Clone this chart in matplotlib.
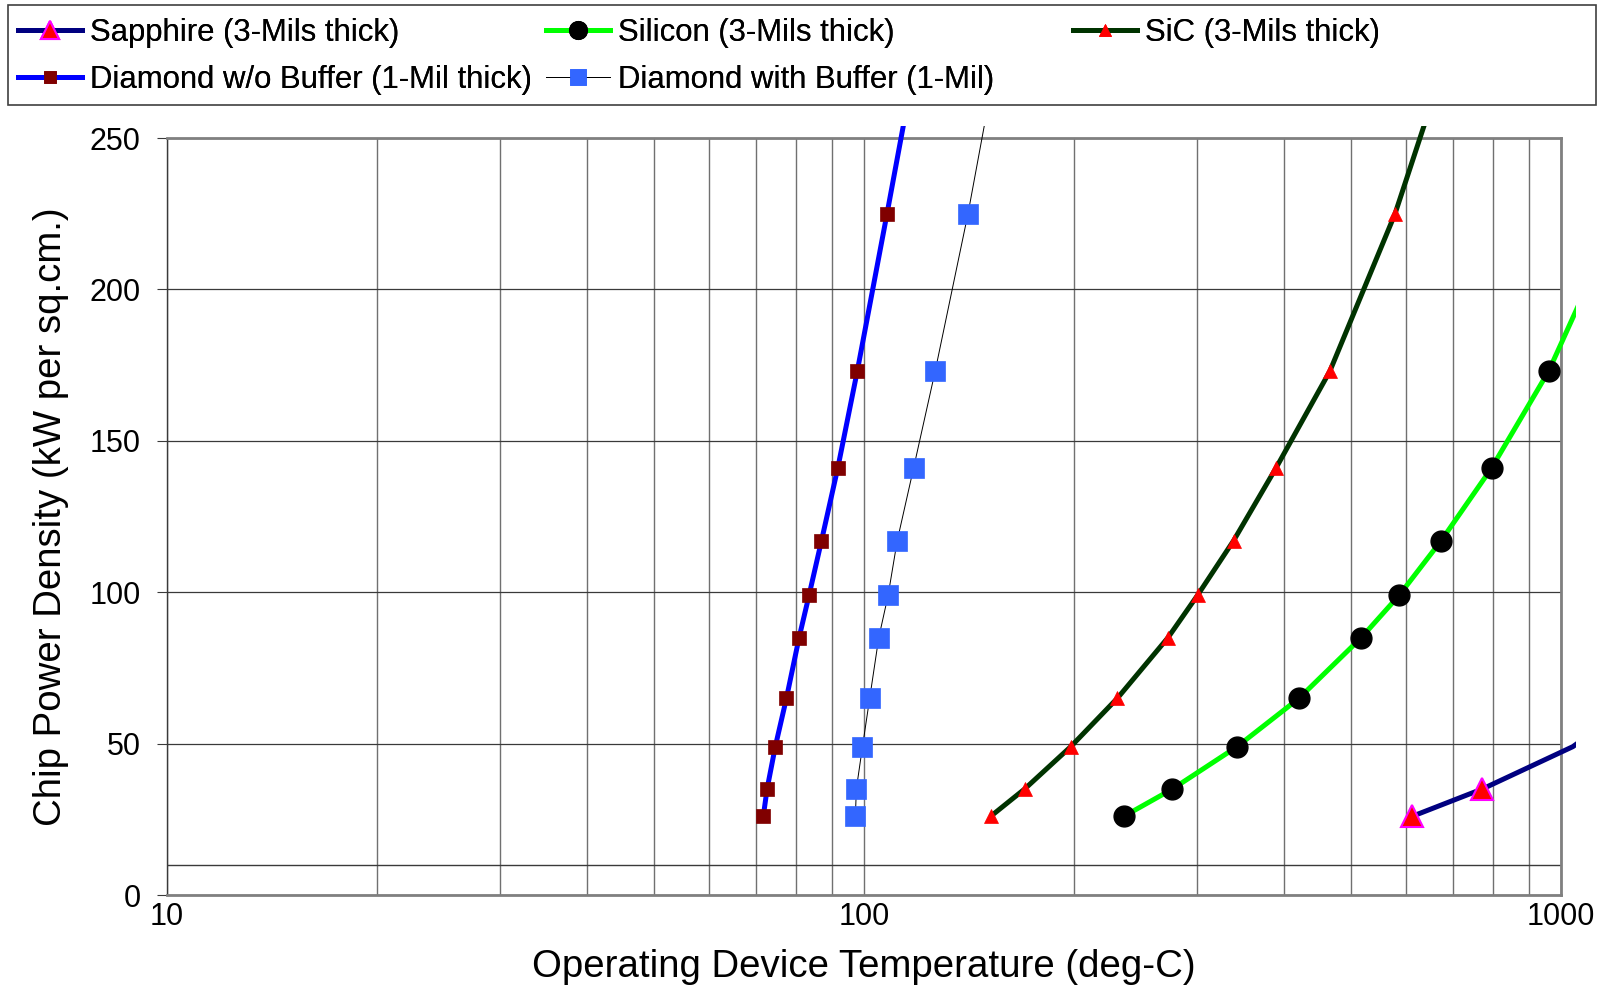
import matplotlib
matplotlib.use('Agg')
import matplotlib.pyplot as plt
from matplotlib.patches import Rectangle
from matplotlib.lines import Line2D
from matplotlib.ticker import FixedLocator, NullFormatter
import numpy as np

plt.rcParams['font.family'] = ['Liberation Sans', 'DejaVu Sans']

# ---- data (temperature deg-C, power density kW/cm^2) ----
# last points of some series lie beyond the axis range (only the line reaches there)
power = [26, 35, 49, 65, 85, 99, 117, 141, 173, 225, 300]

sapphire_T = [612, 771, 1040, 1300]
sapphire_P = [26, 35, 49, 65]

silicon_T = [236, 277, 343, 421, 517, 586, 673, 795, 960, 1215]
silicon_P = [26, 35, 49, 65, 85, 99, 117, 141, 173, 225]

sic_T = [152, 170, 198, 231, 273, 301, 339, 390, 466, 578, 740]
sic_P = power

dwo_T = [71.7, 72.6, 74.6, 77.4, 80.7, 83.4, 86.9, 91.7, 97.8, 107.9, 124]
dwo_P = power

dwb_T = [97.2, 97.5, 99.5, 101.9, 105.0, 108.3, 111.6, 117.8, 126.5, 141.0, 162]
dwb_P = power

labels = ["Sapphire (3-Mils thick)", "Silicon (3-Mils thick)", "SiC (3-Mils thick)",
          "Diamond w/o Buffer (1-Mil thick)", "Diamond with Buffer (1-Mil)"]

x_ticks = [10, 100, 1000]
y_ticks = [0, 50, 100, 150, 200, 250]

styles = [
    dict(color='#000080', lw=3.6, marker='^', ms=16, mfc='#FF0000', mec='#FF00FF', mew=1.5),
    dict(color='#00FF00', lw=3.6, marker='o', ms=15, mfc='#000000', mec='#000000', mew=1),
    dict(color='#003300', lw=3.6, marker='^', ms=9.5, mfc='#FF0000', mec='#FF0000', mew=0.5),
    dict(color='#0000FF', lw=3.6, marker='s', ms=10, mfc='#800000', mec='#800000', mew=0.5),
    dict(color='#000000', lw=0.7, marker='s', ms=14, mfc='#3366FF', mec='#3366FF', mew=0.5),
]
series = [(sapphire_T, sapphire_P), (silicon_T, silicon_P), (sic_T, sic_P),
          (dwo_T, dwo_P), (dwb_T, dwb_P)]

W, H = 1606, 988
fig = plt.figure(figsize=(W / 100, H / 100), dpi=100)
ax = fig.add_axes([167 / W, 1 - 895 / H, (1561 - 167) / W, (895 - 138) / H])
ax.set_xscale('log')
ax.set_xlim(10, 1000)
ax.set_ylim(0, 250)

# grid
ax.xaxis.set_minor_locator(FixedLocator([v * d for d in (10, 100) for v in range(2, 10)]))
ax.xaxis.set_minor_formatter(NullFormatter())
ax.xaxis.set_major_locator(FixedLocator(x_ticks))
ax.set_xticklabels([str(v) for v in x_ticks])
ax.set_yticks(y_ticks)
ax.grid(True, which='both', axis='x', color='#707070', lw=1.0, zorder=0)
ax.grid(True, which='major', axis='y', color='#3a3a3a', lw=0.9, zorder=0)
ax.axhline(10, color='#3a3a3a', lw=1.0, zorder=1)
ax.set_axisbelow(True)

for s in ('top', 'right', 'bottom'):
    ax.spines[s].set_color('#808080')
    ax.spines[s].set_linewidth(2)
ax.spines['left'].set_color('#3a3a3a')
ax.spines['left'].set_linewidth(1)

ax.tick_params(axis='y', which='major', length=7, direction='out', color='#3a3a3a',
               labelsize=22, pad=12)
ax.tick_params(axis='x', which='both', length=0, labelsize=22, pad=5)

clip_rect = Rectangle((0, 0), 1.011, 1.016, transform=ax.transAxes)

handles = []
for i, ((T, P), st) in enumerate(zip(series, styles)):
    T = np.asarray(T, float)
    P = np.asarray(P, float)
    ln, = ax.plot(T, P, color=st['color'], lw=st['lw'], zorder=3 + i,
                  solid_capstyle='butt')
    ln.set_clip_path(clip_rect)
    vis = (T <= 1000) & (P <= 250)
    ax.plot(T[vis], P[vis], ls='none', marker=st['marker'], ms=st['ms'],
            mfc=st['mfc'], mec=st['mec'], mew=st['mew'], zorder=3 + i)
    handles.append(Line2D([], [], color=st['color'], lw=st['lw'], marker=st['marker'],
                          ms=st['ms'], mfc=st['mfc'], mec=st['mec'], mew=st['mew']))

ax.set_xlabel('Operating Device Temperature (deg-C)', fontsize=27.6, labelpad=12)
ax.set_ylabel('Chip Power Density (kW per sq.cm.)', fontsize=27.6, labelpad=15)

# legend frame
fig.patches.append(Rectangle((8 / W, 1 - 105 / H), (1596 - 8) / W, 100 / H,
                             transform=fig.transFigure, facecolor='white',
                             edgecolor='#404040', lw=1.2, zorder=0))
cols = [([0, 3], 18), ([1, 4], 546), ([2], 1073)]
for idx, xpx in cols:
    leg = fig.legend([handles[k] for k in idx], [labels[k] for k in idx],
                     loc='upper left', bbox_to_anchor=(xpx / W, 1 - 18 / H),
                     frameon=False, fontsize=22.4, handlelength=2.05, handletextpad=0.26,
                     labelspacing=0.55, borderpad=0, borderaxespad=0, markerscale=0.85)
    fig.add_artist(leg)

fig.savefig('out.png', dpi=100)
